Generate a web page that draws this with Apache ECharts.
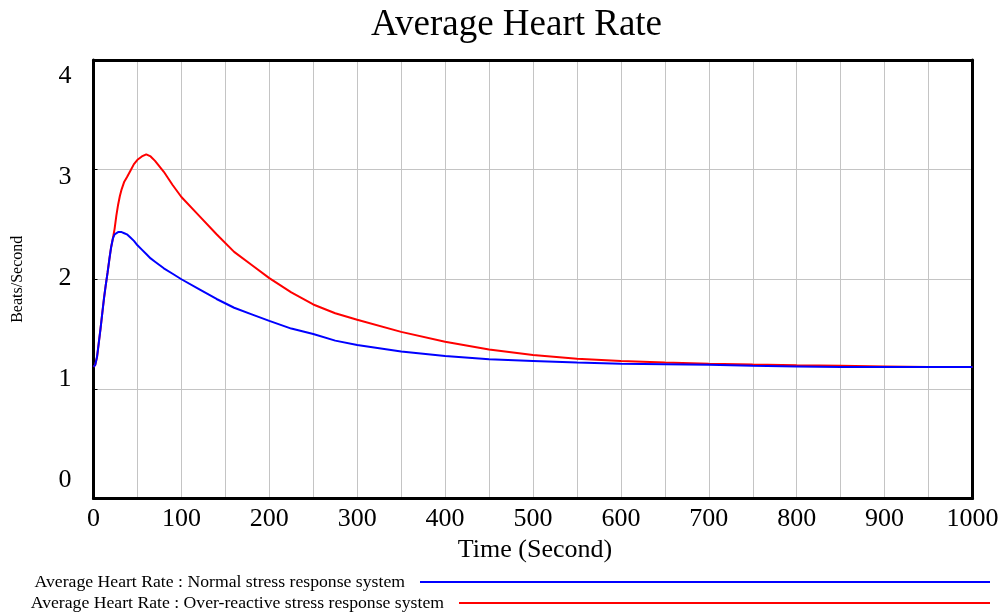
<!DOCTYPE html>
<html>
<head>
<meta charset="utf-8">
<script src="https://cdn.jsdelivr.net/npm/echarts@6/dist/echarts.min.js"></script>
<style>
html,body{margin:0;padding:0;background:#fff;}
#chart{width:1003px;height:613px;}
</style>
</head>
<body>
<div id="chart"></div>
<script>
const times = [0, 2, 4, 6, 8, 10, 12, 14, 16, 18, 20, 22, 24, 26, 28, 30, 32, 35, 38, 42, 46, 50, 55, 60, 65, 70, 80, 90, 100, 120, 140, 160, 180, 200, 225, 250, 275, 300, 350, 400, 450, 500, 550, 600, 650, 700, 750, 800, 850, 900, 950, 1000];
const normal = [1.20, 1.22, 1.29, 1.42, 1.55, 1.69, 1.83, 1.95, 2.06, 2.18, 2.29, 2.37, 2.41, 2.42, 2.43, 2.43, 2.43, 2.42, 2.41, 2.38, 2.35, 2.31, 2.27, 2.23, 2.19, 2.16, 2.10, 2.05, 2.00, 1.91, 1.82, 1.74, 1.68, 1.62, 1.55, 1.50, 1.44, 1.40, 1.34, 1.30, 1.27, 1.255, 1.24, 1.23, 1.225, 1.22, 1.21, 1.205, 1.20, 1.20, 1.20, 1.20];
const overReactive = [1.20, 1.22, 1.29, 1.42, 1.55, 1.69, 1.83, 1.95, 2.06, 2.18, 2.29, 2.37, 2.46, 2.58, 2.68, 2.76, 2.82, 2.89, 2.93, 2.99, 3.05, 3.09, 3.12, 3.14, 3.12, 3.08, 2.98, 2.86, 2.75, 2.58, 2.41, 2.25, 2.13, 2.01, 1.88, 1.77, 1.69, 1.63, 1.52, 1.43, 1.36, 1.31, 1.275, 1.255, 1.24, 1.23, 1.222, 1.215, 1.21, 1.205, 1.20, 1.20];
const seriesNames = ['Average Heart Rate : Normal stress response system', 'Average Heart Rate : Over-reactive stress response system'];
const yTicks = [0, 1, 2, 3, 4];
const xTickStep = 100;

const FONT = "'Liberation Serif', 'Times New Roman', serif";
const chart = echarts.init(document.getElementById('chart'), null, {renderer: 'canvas'});

const labelRich = {
  l4: {fontFamily: FONT, fontSize: 26, color: '#000', padding: [32, 0, 0, 0]},
  l3: {fontFamily: FONT, fontSize: 26, color: '#000', padding: [15, 0, 0, 0]},
  l2: {fontFamily: FONT, fontSize: 26, color: '#000', padding: [0, 0, 2, 0]},
  l1: {fontFamily: FONT, fontSize: 26, color: '#000', padding: [0, 0, 19, 0]},
  l0: {fontFamily: FONT, fontSize: 26, color: '#000', padding: [0, 0, 36, 0]}
};

const legendCommon = {
  orient: 'horizontal',
  align: 'right',
  right: 13,
  padding: 0,
  icon: 'rect',
  itemHeight: 2,
  selectedMode: false,
  textStyle: {fontFamily: FONT, fontSize: 17.7, color: '#000', padding: [0, 10, 0, 0]}
};

const frameLine = {show: true, onZero: false, lineStyle: {color: '#000', width: 3}};

chart.setOption({
  animation: false,
  backgroundColor: '#fff',
  title: {
    text: 'Average Heart Rate',
    left: 371,
    top: 7,
    padding: 0,
    textStyle: {fontFamily: FONT, fontSize: 37, fontWeight: 'normal', color: '#000'}
  },
  legend: [
    Object.assign({}, legendCommon, {data: [seriesNames[0]], top: 573, itemWidth: 570}),
    Object.assign({}, legendCommon, {data: [seriesNames[1]], top: 594, itemWidth: 531})
  ],
  grid: {
    left: 93.5, right: 30.5, top: 60, bottom: 114.5,
    show: false,
    containLabel: false
  },
  xAxis: [
    {
      type: 'value',
      position: 'bottom',
      min: 0, max: 1000, interval: 50,
      name: 'Time (Second)',
      nameLocation: 'middle',
      nameGap: 34,
      nameTextStyle: {fontFamily: FONT, fontSize: 26, color: '#000', padding: [0, 0, 0, 4]},
      axisLine: frameLine,
      axisTick: {show: false},
      axisLabel: {
        margin: 8,
        fontFamily: FONT, fontSize: 26, color: '#000',
        formatter: v => (v % xTickStep === 0 ? String(v) : '')
      },
      splitLine: {show: true, lineStyle: {color: '#c4c4c4', width: 1}}
    },
    {
      type: 'value',
      position: 'top',
      min: 0, max: 1000, interval: 50,
      axisLine: frameLine,
      axisTick: {show: false},
      axisLabel: {show: false},
      splitLine: {show: false}
    }
  ],
  yAxis: [
    {
      type: 'value',
      position: 'left',
      min: yTicks[0], max: yTicks[yTicks.length - 1], interval: 1,
      name: 'Beats/Second',
      nameLocation: 'middle',
      nameGap: 68,
      nameRotate: 90,
      nameTextStyle: {fontFamily: FONT, fontSize: 16, color: '#000'},
      axisLine: frameLine,
      axisTick: {show: true, inside: true, length: 4, lineStyle: {color: '#000', width: 1}},
      axisLabel: {
        margin: 22,
        fontFamily: FONT, fontSize: 26, color: '#000',
        formatter: v => '{l' + v + '|' + v + '}',
        rich: labelRich
      },
      splitLine: {show: true, lineStyle: {color: '#c4c4c4', width: 1}}
    },
    {
      type: 'value',
      position: 'right',
      min: yTicks[0], max: yTicks[yTicks.length - 1], interval: 1,
      axisLine: frameLine,
      axisTick: {show: false},
      axisLabel: {show: false},
      splitLine: {show: false}
    }
  ],
  series: [
    {
      name: seriesNames[1],
      type: 'line',
      xAxisIndex: 0, yAxisIndex: 0,
      showSymbol: false,
      symbol: 'none',
      color: '#ff0000',
      lineStyle: {color: '#ff0000', width: 2},
      data: times.map((t, i) => [t, overReactive[i]])
    },
    {
      name: seriesNames[0],
      type: 'line',
      xAxisIndex: 0, yAxisIndex: 0,
      showSymbol: false,
      symbol: 'none',
      color: '#0000ff',
      lineStyle: {color: '#0000ff', width: 2},
      data: times.map((t, i) => [t, normal[i]])
    }
  ]
});
</script>
</body>
</html>
